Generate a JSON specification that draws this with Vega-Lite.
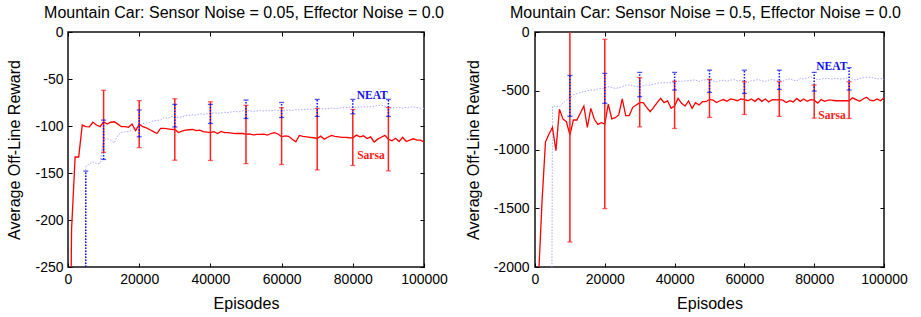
{
  "$schema": "https://vega.github.io/schema/vega-lite/v6.json",
  "padding": {"left": 6, "top": 4, "right": 5, "bottom": 5},
  "bounds": "flush",
  "spacing": 111,
  "config": {
    "font": "Liberation Sans",
    "view": {"stroke": "#111111", "strokeWidth": 1.5},
    "title": {"fontSize": 16, "fontWeight": "normal", "color": "#000000", "frame": "group", "anchor": "middle", "offset": 4},
    "axis": {
      "domain": false, "grid": false, "tickColor": "#000000", "tickSize": -4, "tickWidth": 1,
      "labelFontSize": 14, "labelColor": "#000000", "labelPadding": 9, "labelFlush": false, "labelOverlap": false,
      "titleFontSize": 16, "titleFontWeight": "normal", "titleColor": "#000000",
      "labelExpr": "'' + datum.value"
    }
  },
  "datasets": {
    "left": [
      {"ep":0,"Sarsa":-600,"NEAT":-1000},{"ep":1000,"Sarsa":-210,"NEAT":-1000},{"ep":2000,"Sarsa":-133,"NEAT":-1000},{"ep":3000,"Sarsa":-133,"NEAT":-1000},{"ep":4000,"Sarsa":-99,"NEAT":-1000},
      {"ep":5000,"Sarsa":-100.7,"NEAT":-143},{"ep":6000,"Sarsa":-101,"NEAT":-140.4},{"ep":7000,"Sarsa":-96,"NEAT":-138},{"ep":8000,"Sarsa":-99,"NEAT":-140},{"ep":9000,"Sarsa":-100.7,"NEAT":-140},
      {"ep":10000,"Sarsa":-95.5,"NEAT":-114.5},{"ep":11000,"Sarsa":-98,"NEAT":-113.5},{"ep":12000,"Sarsa":-96,"NEAT":-115},{"ep":13000,"Sarsa":-95.5,"NEAT":-118},{"ep":14000,"Sarsa":-98,"NEAT":-110},
      {"ep":15000,"Sarsa":-100.7,"NEAT":-107},{"ep":16000,"Sarsa":-100.7,"NEAT":-106},{"ep":17000,"Sarsa":-101.4,"NEAT":-106},{"ep":18000,"Sarsa":-98,"NEAT":-103.6},{"ep":19000,"Sarsa":-105,"NEAT":-102.5},
      {"ep":20000,"Sarsa":-98,"NEAT":-100},{"ep":21000,"Sarsa":-100.7,"NEAT":-97.5},{"ep":22000,"Sarsa":-102,"NEAT":-97},{"ep":23000,"Sarsa":-104,"NEAT":-96},{"ep":24000,"Sarsa":-106,"NEAT":-94.5},
      {"ep":25000,"Sarsa":-108,"NEAT":-94},{"ep":26000,"Sarsa":-102.5,"NEAT":-93.6},{"ep":27000,"Sarsa":-102.5,"NEAT":-91},{"ep":28000,"Sarsa":-103,"NEAT":-92},{"ep":29000,"Sarsa":-103.5,"NEAT":-90},
      {"ep":30000,"Sarsa":-103.7,"NEAT":-89.7},{"ep":31000,"Sarsa":-107,"NEAT":-91},{"ep":32000,"Sarsa":-105.5,"NEAT":-90},{"ep":33000,"Sarsa":-104.5,"NEAT":-89},{"ep":34000,"Sarsa":-104,"NEAT":-88.5},
      {"ep":35000,"Sarsa":-103.7,"NEAT":-88},{"ep":36000,"Sarsa":-105,"NEAT":-88.5},{"ep":37000,"Sarsa":-104.5,"NEAT":-87},{"ep":38000,"Sarsa":-106,"NEAT":-87.5},{"ep":39000,"Sarsa":-106.5,"NEAT":-87},
      {"ep":40000,"Sarsa":-107,"NEAT":-86.6},{"ep":41000,"Sarsa":-106,"NEAT":-86},{"ep":42000,"Sarsa":-108,"NEAT":-86.5},{"ep":43000,"Sarsa":-105.8,"NEAT":-86},{"ep":44000,"Sarsa":-107,"NEAT":-85.5},
      {"ep":45000,"Sarsa":-107,"NEAT":-85.6},{"ep":46000,"Sarsa":-107.5,"NEAT":-85},{"ep":47000,"Sarsa":-108,"NEAT":-84.5},{"ep":48000,"Sarsa":-108,"NEAT":-85},{"ep":49000,"Sarsa":-108,"NEAT":-84},
      {"ep":50000,"Sarsa":-108.7,"NEAT":-83},{"ep":51000,"Sarsa":-108.5,"NEAT":-84},{"ep":52000,"Sarsa":-109.5,"NEAT":-84.5},{"ep":53000,"Sarsa":-109,"NEAT":-84},{"ep":54000,"Sarsa":-109,"NEAT":-83.5},
      {"ep":55000,"Sarsa":-108.7,"NEAT":-84},{"ep":56000,"Sarsa":-109.7,"NEAT":-83.5},{"ep":57000,"Sarsa":-108,"NEAT":-84},{"ep":58000,"Sarsa":-107,"NEAT":-83},{"ep":59000,"Sarsa":-108.5,"NEAT":-83.5},
      {"ep":60000,"Sarsa":-111.5,"NEAT":-84},{"ep":61000,"Sarsa":-110.5,"NEAT":-83.5},{"ep":62000,"Sarsa":-111,"NEAT":-83},{"ep":63000,"Sarsa":-114,"NEAT":-83.5},{"ep":64000,"Sarsa":-116.8,"NEAT":-82.5},
      {"ep":65000,"Sarsa":-110,"NEAT":-83},{"ep":66000,"Sarsa":-111,"NEAT":-82.5},{"ep":67000,"Sarsa":-111.5,"NEAT":-82},{"ep":68000,"Sarsa":-112,"NEAT":-82.5},{"ep":69000,"Sarsa":-112.5,"NEAT":-82},
      {"ep":70000,"Sarsa":-113.3,"NEAT":-82},{"ep":71000,"Sarsa":-110.8,"NEAT":-81.5},{"ep":72000,"Sarsa":-114,"NEAT":-82},{"ep":73000,"Sarsa":-112,"NEAT":-81.5},{"ep":74000,"Sarsa":-110,"NEAT":-81},
      {"ep":75000,"Sarsa":-111,"NEAT":-81.3},{"ep":76000,"Sarsa":-111.5,"NEAT":-81},{"ep":77000,"Sarsa":-112,"NEAT":-80.5},{"ep":78000,"Sarsa":-112,"NEAT":-80.5},{"ep":79000,"Sarsa":-112.5,"NEAT":-80},
      {"ep":80000,"Sarsa":-112.6,"NEAT":-80.3},{"ep":81000,"Sarsa":-109.7,"NEAT":-80},{"ep":82000,"Sarsa":-111.5,"NEAT":-80},{"ep":83000,"Sarsa":-110.4,"NEAT":-79.5},{"ep":84000,"Sarsa":-113.3,"NEAT":-79.5},
      {"ep":85000,"Sarsa":-111.5,"NEAT":-79.5},{"ep":86000,"Sarsa":-117,"NEAT":-79},{"ep":87000,"Sarsa":-114,"NEAT":-78},{"ep":88000,"Sarsa":-112,"NEAT":-77.8},{"ep":89000,"Sarsa":-110,"NEAT":-79},
      {"ep":90000,"Sarsa":-114,"NEAT":-80.3},{"ep":91000,"Sarsa":-115.8,"NEAT":-81},{"ep":92000,"Sarsa":-113,"NEAT":-80.5},{"ep":93000,"Sarsa":-116.5,"NEAT":-80},{"ep":94000,"Sarsa":-112,"NEAT":-81},
      {"ep":95000,"Sarsa":-116.5,"NEAT":-80.3},{"ep":96000,"Sarsa":-115,"NEAT":-80},{"ep":97000,"Sarsa":-113.6,"NEAT":-79.5},{"ep":98000,"Sarsa":-115,"NEAT":-80.5},{"ep":99000,"Sarsa":-115,"NEAT":-81},
      {"ep":100000,"Sarsa":-117,"NEAT":-81.3}
    ],
    "right": [
      {"ep":0,"Sarsa":-3000,"NEAT":-10000},{"ep":1000,"Sarsa":-2100,"NEAT":-10000},{"ep":2000,"Sarsa":-1450,"NEAT":-10000},{"ep":3000,"Sarsa":-935,"NEAT":-10000},{"ep":4000,"Sarsa":-870,"NEAT":-10000},
      {"ep":5000,"Sarsa":-811,"NEAT":-631},{"ep":6000,"Sarsa":-1010,"NEAT":-631},{"ep":7000,"Sarsa":-658,"NEAT":-636},{"ep":8000,"Sarsa":-740,"NEAT":-605},{"ep":9000,"Sarsa":-763,"NEAT":-579},
      {"ep":10000,"Sarsa":-877,"NEAT":-560},{"ep":11000,"Sarsa":-749,"NEAT":-536},{"ep":12000,"Sarsa":-749,"NEAT":-525},{"ep":13000,"Sarsa":-690,"NEAT":-516},{"ep":14000,"Sarsa":-630,"NEAT":-508},
      {"ep":15000,"Sarsa":-811,"NEAT":-500},{"ep":16000,"Sarsa":-650,"NEAT":-494},{"ep":17000,"Sarsa":-743,"NEAT":-494},{"ep":18000,"Sarsa":-786,"NEAT":-485},{"ep":19000,"Sarsa":-772,"NEAT":-480},
      {"ep":20000,"Sarsa":-783,"NEAT":-480},{"ep":21000,"Sarsa":-613,"NEAT":-465},{"ep":22000,"Sarsa":-740,"NEAT":-473},{"ep":23000,"Sarsa":-729,"NEAT":-480},{"ep":24000,"Sarsa":-706,"NEAT":-475},
      {"ep":25000,"Sarsa":-570,"NEAT":-465},{"ep":26000,"Sarsa":-712,"NEAT":-451},{"ep":27000,"Sarsa":-712,"NEAT":-451},{"ep":28000,"Sarsa":-641,"NEAT":-458},{"ep":29000,"Sarsa":-621,"NEAT":-465},
      {"ep":30000,"Sarsa":-601,"NEAT":-465},{"ep":31000,"Sarsa":-601,"NEAT":-458},{"ep":32000,"Sarsa":-641,"NEAT":-451},{"ep":33000,"Sarsa":-678,"NEAT":-451},{"ep":34000,"Sarsa":-641,"NEAT":-445},
      {"ep":35000,"Sarsa":-601,"NEAT":-437},{"ep":36000,"Sarsa":-565,"NEAT":-432},{"ep":37000,"Sarsa":-601,"NEAT":-432},{"ep":38000,"Sarsa":-587,"NEAT":-432},{"ep":39000,"Sarsa":-650,"NEAT":-432},
      {"ep":40000,"Sarsa":-630,"NEAT":-425},{"ep":41000,"Sarsa":-565,"NEAT":-417},{"ep":42000,"Sarsa":-607,"NEAT":-420},{"ep":43000,"Sarsa":-630,"NEAT":-417},{"ep":44000,"Sarsa":-587,"NEAT":-414},
      {"ep":45000,"Sarsa":-650,"NEAT":-410},{"ep":46000,"Sarsa":-601,"NEAT":-408},{"ep":47000,"Sarsa":-621,"NEAT":-423},{"ep":48000,"Sarsa":-593,"NEAT":-408},{"ep":49000,"Sarsa":-593,"NEAT":-408},
      {"ep":50000,"Sarsa":-573,"NEAT":-408},{"ep":51000,"Sarsa":-579,"NEAT":-417},{"ep":52000,"Sarsa":-600,"NEAT":-423},{"ep":53000,"Sarsa":-585,"NEAT":-415},{"ep":54000,"Sarsa":-575,"NEAT":-410},
      {"ep":55000,"Sarsa":-590,"NEAT":-420},{"ep":56000,"Sarsa":-570,"NEAT":-410},{"ep":57000,"Sarsa":-575,"NEAT":-405},{"ep":58000,"Sarsa":-585,"NEAT":-415},{"ep":59000,"Sarsa":-570,"NEAT":-410},
      {"ep":60000,"Sarsa":-575,"NEAT":-420},{"ep":61000,"Sarsa":-585,"NEAT":-430},{"ep":62000,"Sarsa":-570,"NEAT":-415},{"ep":63000,"Sarsa":-590,"NEAT":-410},{"ep":64000,"Sarsa":-565,"NEAT":-405},
      {"ep":65000,"Sarsa":-590,"NEAT":-415},{"ep":66000,"Sarsa":-570,"NEAT":-420},{"ep":67000,"Sarsa":-595,"NEAT":-410},{"ep":68000,"Sarsa":-575,"NEAT":-405},{"ep":69000,"Sarsa":-578,"NEAT":-412},
      {"ep":70000,"Sarsa":-575,"NEAT":-410},{"ep":71000,"Sarsa":-580,"NEAT":-418},{"ep":72000,"Sarsa":-600,"NEAT":-405},{"ep":73000,"Sarsa":-585,"NEAT":-400},{"ep":74000,"Sarsa":-595,"NEAT":-410},
      {"ep":75000,"Sarsa":-565,"NEAT":-415},{"ep":76000,"Sarsa":-590,"NEAT":-395},{"ep":77000,"Sarsa":-570,"NEAT":-400},{"ep":78000,"Sarsa":-590,"NEAT":-390},{"ep":79000,"Sarsa":-575,"NEAT":-380},
      {"ep":80000,"Sarsa":-580,"NEAT":-395},{"ep":81000,"Sarsa":-605,"NEAT":-405},{"ep":82000,"Sarsa":-575,"NEAT":-400},{"ep":83000,"Sarsa":-590,"NEAT":-395},{"ep":84000,"Sarsa":-580,"NEAT":-395},
      {"ep":85000,"Sarsa":-580,"NEAT":-400},{"ep":86000,"Sarsa":-585,"NEAT":-395},{"ep":87000,"Sarsa":-585,"NEAT":-398},{"ep":88000,"Sarsa":-585,"NEAT":-400},{"ep":89000,"Sarsa":-585,"NEAT":-395},
      {"ep":90000,"Sarsa":-585,"NEAT":-385},{"ep":91000,"Sarsa":-560,"NEAT":-400},{"ep":92000,"Sarsa":-575,"NEAT":-410},{"ep":93000,"Sarsa":-590,"NEAT":-395},{"ep":94000,"Sarsa":-570,"NEAT":-390},
      {"ep":95000,"Sarsa":-555,"NEAT":-386},{"ep":96000,"Sarsa":-580,"NEAT":-385},{"ep":97000,"Sarsa":-585,"NEAT":-390},{"ep":98000,"Sarsa":-570,"NEAT":-400},{"ep":99000,"Sarsa":-585,"NEAT":-395},
      {"ep":100000,"Sarsa":-560,"NEAT":-403}
    ],
    "errLeft": [
      {"ep":10000,"algo":"Sarsa","lo":-128,"hi":-62},{"ep":20000,"algo":"Sarsa","lo":-123,"hi":-73},{"ep":30000,"algo":"Sarsa","lo":-136.4,"hi":-71},
      {"ep":40000,"algo":"Sarsa","lo":-136.7,"hi":-74.2},{"ep":50000,"algo":"Sarsa","lo":-140,"hi":-78},{"ep":60000,"algo":"Sarsa","lo":-141,"hi":-80.6},
      {"ep":70000,"algo":"Sarsa","lo":-146.7,"hi":-81.3},{"ep":80000,"algo":"Sarsa","lo":-142,"hi":-82.4},{"ep":90000,"algo":"Sarsa","lo":-147.7,"hi":-80.3},
      {"ep":5000,"algo":"NEAT","lo":-400,"hi":-148},{"ep":10000,"algo":"NEAT","lo":-135.6,"hi":-93.7},{"ep":20000,"algo":"NEAT","lo":-111.5,"hi":-83},
      {"ep":30000,"algo":"NEAT","lo":-101,"hi":-77},{"ep":40000,"algo":"NEAT","lo":-97.3,"hi":-77},{"ep":50000,"algo":"NEAT","lo":-92,"hi":-72.4},
      {"ep":60000,"algo":"NEAT","lo":-91,"hi":-75},{"ep":70000,"algo":"NEAT","lo":-89.8,"hi":-71.7},{"ep":80000,"algo":"NEAT","lo":-87,"hi":-71.7},
      {"ep":90000,"algo":"NEAT","lo":-89.8,"hi":-71.7}
    ],
    "errRight": [
      {"ep":10000,"algo":"Sarsa","lo":-1787,"hi":33},{"ep":20000,"algo":"Sarsa","lo":-1503,"hi":-62},{"ep":30000,"algo":"Sarsa","lo":-807,"hi":-389},
      {"ep":40000,"algo":"Sarsa","lo":-821,"hi":-420},{"ep":50000,"algo":"Sarsa","lo":-727,"hi":-403},{"ep":60000,"algo":"Sarsa","lo":-702,"hi":-423},
      {"ep":70000,"algo":"Sarsa","lo":-718,"hi":-423},{"ep":80000,"algo":"Sarsa","lo":-733,"hi":-451},{"ep":90000,"algo":"Sarsa","lo":-736,"hi":-423},
      {"ep":10000,"algo":"NEAT","lo":-718,"hi":-370},{"ep":20000,"algo":"NEAT","lo":-607,"hi":-352},{"ep":30000,"algo":"NEAT","lo":-551,"hi":-344},
      {"ep":40000,"algo":"NEAT","lo":-494,"hi":-344},{"ep":50000,"algo":"NEAT","lo":-514,"hi":-325},{"ep":60000,"algo":"NEAT","lo":-523,"hi":-325},
      {"ep":70000,"algo":"NEAT","lo":-489,"hi":-325},{"ep":80000,"algo":"NEAT","lo":-503,"hi":-344},{"ep":90000,"algo":"NEAT","lo":-494,"hi":-304}
    ],
    "labLeft": [
      {"ep":85450,"reward":-67.6,"algo":"NEAT"},{"ep":85100,"reward":-131.6,"algo":"Sarsa"}
    ],
    "labRight": [
      {"ep":85030,"reward":-302,"algo":"NEAT"},{"ep":85130,"reward":-711,"algo":"Sarsa"}
    ]
  },
  "hconcat": [
    {
      "width": 356, "height": 235,
      "title": {"text": "Mountain Car: Sensor Noise = 0.05, Effector Noise = 0.0", "dx": -2},
      "resolve": {"axis": {"x": "independent", "y": "independent"}},
      "layer": [
        {
          "data": {"name": "left"},
          "mark": {"type": "line", "color": "#a8a8ff", "strokeWidth": 1, "strokeDash": [1.5, 1.5], "clip": true},
          "encoding": {
            "x": {"field": "ep", "type": "quantitative", "scale": {"domain": [0, 100000], "nice": false},
                  "axis": {"orient": "top", "labels": false, "title": null, "minExtent": 0, "maxExtent": 0, "values": [0, 20000, 40000, 60000, 80000, 100000]}},
            "y": {"field": "NEAT", "type": "quantitative", "scale": {"domain": [-250, 0], "nice": false, "zero": false},
                  "axis": {"orient": "right", "labels": false, "title": null, "minExtent": 0, "maxExtent": 0, "values": [0, -50, -100, -150, -200, -250]}}
          }
        },
        {
          "data": {"name": "left"},
          "mark": {"type": "line", "color": "#ff0000", "strokeWidth": 1.3, "clip": true},
          "encoding": {
            "x": {"field": "ep", "type": "quantitative",
                  "axis": {"orient": "bottom", "title": "Episodes", "titlePadding": 9, "values": [0, 20000, 40000, 60000, 80000, 100000]}},
            "y": {"field": "Sarsa", "type": "quantitative",
                  "axis": {"orient": "left", "title": "Average Off-Line Reward", "titlePadding": 12, "values": [0, -50, -100, -150, -200, -250]}}
          }
        },
        {
          "data": {"name": "errLeft"},
          "mark": {"type": "rule", "strokeWidth": 1.5, "clip": true},
          "encoding": {
            "x": {"field": "ep", "type": "quantitative", "axis": null},
            "y": {"field": "lo", "type": "quantitative", "axis": null},
            "y2": {"field": "hi"},
            "color": {"field": "algo", "type": "nominal", "scale": {"domain": ["Sarsa", "NEAT"], "range": ["#ff2020", "#1010ee"]}, "legend": null},
            "strokeDash": {"field": "algo", "type": "nominal", "scale": {"domain": ["Sarsa", "NEAT"], "range": [[1, 0], [1.5, 1.5]]}, "legend": null}
          }
        },
        {
          "data": {"name": "errLeft"},
          "mark": {"type": "tick", "orient": "horizontal", "size": 5, "thickness": 1.3, "clip": true},
          "encoding": {
            "x": {"field": "ep", "type": "quantitative", "axis": null},
            "y": {"field": "lo", "type": "quantitative", "axis": null},
            "color": {"field": "algo", "type": "nominal", "legend": null}
          }
        },
        {
          "data": {"name": "errLeft"},
          "mark": {"type": "tick", "orient": "horizontal", "size": 5, "thickness": 1.3, "clip": true},
          "encoding": {
            "x": {"field": "ep", "type": "quantitative", "axis": null},
            "y": {"field": "hi", "type": "quantitative", "axis": null},
            "color": {"field": "algo", "type": "nominal", "legend": null}
          }
        },
        {
          "data": {"name": "labLeft"},
          "mark": {"type": "text", "font": "Liberation Serif", "fontWeight": "bold", "fontSize": 11.5, "align": "center", "baseline": "middle"},
          "encoding": {
            "x": {"field": "ep", "type": "quantitative", "axis": null},
            "y": {"field": "reward", "type": "quantitative", "axis": null},
            "text": {"field": "algo"},
            "color": {"field": "algo", "type": "nominal", "legend": null}
          }
        }
      ]
    },
    {
      "width": 349, "height": 235,
      "title": {"text": "Mountain Car: Sensor Noise = 0.5, Effector Noise = 0.0", "dx": -4},
      "resolve": {"axis": {"x": "independent", "y": "independent"}},
      "layer": [
        {
          "data": {"name": "right"},
          "mark": {"type": "line", "color": "#a8a8ff", "strokeWidth": 1, "strokeDash": [1.5, 1.5], "clip": true},
          "encoding": {
            "x": {"field": "ep", "type": "quantitative", "scale": {"domain": [0, 100000], "nice": false},
                  "axis": {"orient": "top", "labels": false, "title": null, "minExtent": 0, "maxExtent": 0, "values": [0, 20000, 40000, 60000, 80000, 100000]}},
            "y": {"field": "NEAT", "type": "quantitative", "scale": {"domain": [-2000, 0], "nice": false, "zero": false},
                  "axis": {"orient": "right", "labels": false, "title": null, "minExtent": 0, "maxExtent": 0, "values": [0, -500, -1000, -1500, -2000]}}
          }
        },
        {
          "data": {"name": "right"},
          "mark": {"type": "line", "color": "#ff0000", "strokeWidth": 1.3, "clip": true},
          "encoding": {
            "x": {"field": "ep", "type": "quantitative",
                  "axis": {"orient": "bottom", "title": "Episodes", "titlePadding": 9, "values": [0, 20000, 40000, 60000, 80000, 100000]}},
            "y": {"field": "Sarsa", "type": "quantitative",
                  "axis": {"orient": "left", "title": "Average Off-Line Reward", "titlePadding": 12, "labelPadding": 10, "values": [0, -500, -1000, -1500, -2000]}}
          }
        },
        {
          "data": {"name": "errRight"},
          "mark": {"type": "rule", "strokeWidth": 1.5, "clip": true},
          "encoding": {
            "x": {"field": "ep", "type": "quantitative", "axis": null},
            "y": {"field": "lo", "type": "quantitative", "axis": null},
            "y2": {"field": "hi"},
            "color": {"field": "algo", "type": "nominal", "scale": {"domain": ["Sarsa", "NEAT"], "range": ["#ff2020", "#1010ee"]}, "legend": null},
            "strokeDash": {"field": "algo", "type": "nominal", "scale": {"domain": ["Sarsa", "NEAT"], "range": [[1, 0], [1.5, 1.5]]}, "legend": null}
          }
        },
        {
          "data": {"name": "errRight"},
          "mark": {"type": "tick", "orient": "horizontal", "size": 5, "thickness": 1.3, "clip": true},
          "encoding": {
            "x": {"field": "ep", "type": "quantitative", "axis": null},
            "y": {"field": "lo", "type": "quantitative", "axis": null},
            "color": {"field": "algo", "type": "nominal", "legend": null}
          }
        },
        {
          "data": {"name": "errRight"},
          "mark": {"type": "tick", "orient": "horizontal", "size": 5, "thickness": 1.3, "clip": true},
          "encoding": {
            "x": {"field": "ep", "type": "quantitative", "axis": null},
            "y": {"field": "hi", "type": "quantitative", "axis": null},
            "color": {"field": "algo", "type": "nominal", "legend": null}
          }
        },
        {
          "data": {"name": "labRight"},
          "mark": {"type": "text", "font": "Liberation Serif", "fontWeight": "bold", "fontSize": 11.5, "align": "center", "baseline": "middle"},
          "encoding": {
            "x": {"field": "ep", "type": "quantitative", "axis": null},
            "y": {"field": "reward", "type": "quantitative", "axis": null},
            "text": {"field": "algo"},
            "color": {"field": "algo", "type": "nominal", "legend": null}
          }
        }
      ]
    }
  ]
}
